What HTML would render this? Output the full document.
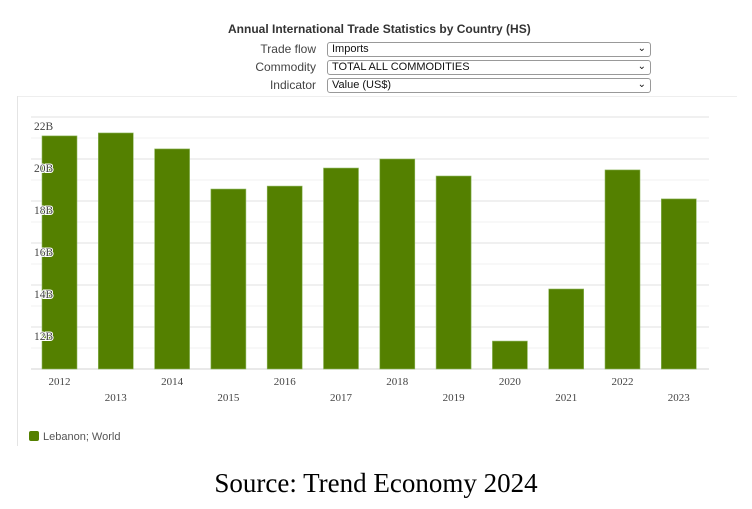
<!DOCTYPE html>
<html><head><meta charset="utf-8">
<style>
body{margin:0;width:752px;height:509px;background:#fff;position:relative;overflow:hidden;font-family:"Liberation Sans",sans-serif}
.lbl{position:absolute;font-size:12px;color:#444;text-align:right;width:100px}
.sel{position:absolute;left:327px;width:318px;height:13px;border:1px solid #999;border-radius:3px;font-size:11px;color:#111;padding-left:4px;line-height:13px}
.sel span{position:absolute;right:4px;top:-1px;font-size:10px}
</style></head><body>
<div style="position:absolute;left:228px;top:22px;font-size:12px;font-weight:bold;color:#333">Annual International Trade Statistics by Country (HS)</div>
<div class="lbl" style="left:216px;top:42px">Trade flow</div>
<div class="sel" style="top:42px">Imports<span>&#8964;</span></div>
<div class="lbl" style="left:216px;top:60px">Commodity</div>
<div class="sel" style="top:60px">TOTAL ALL COMMODITIES<span>&#8964;</span></div>
<div class="lbl" style="left:216px;top:78px">Indicator</div>
<div class="sel" style="top:78px">Value (US$)<span>&#8964;</span></div>
<div style="position:absolute;left:17px;top:96px;width:720px;height:1px;background:#eee"></div>
<div style="position:absolute;left:17px;top:96px;width:1px;height:350px;background:#e4e4e4"></div>
<svg id="chart" width="752" height="509" style="position:absolute;left:0;top:0"></svg>
<div style="position:absolute;left:29px;top:431px;font-size:11px;color:#555"><span style="display:inline-block;width:10px;height:10px;background:#548000;border-radius:2px;vertical-align:-1px;margin-right:4px"></span>Lebanon; World</div>
<div style="position:absolute;left:0;width:752px;top:468px;text-align:center;font-family:'Liberation Serif',serif;font-size:27px;color:#000">Source: Trend Economy 2024</div>
<script>
const years=["2012","2013","2014","2015","2016","2017","2018","2019","2020","2021","2022","2023"];
const values=[21.1,21.24,20.48,18.57,18.71,19.57,20.0,19.19,11.33,13.81,19.48,18.1];
const ticks=[12,14,16,18,20,22];
const tickLabels=["12B","14B","16B","18B","20B","22B"];
const NS="http://www.w3.org/2000/svg";
const svg=document.getElementById('chart');
const yMin=10,yMax=22,top0=117,base=369,left=31,right=709;
const y=v=>base-(v-yMin)/(yMax-yMin)*(base-top0);
const xc=i=>left+28.5+i*56.3;
function el(t,a){const e=document.createElementNS(NS,t);for(const k in a)e.setAttribute(k,a[k]);svg.appendChild(e);return e;}
for(let v=yMin;v<=yMax;v+=1){
  const g=el('line',{x1:left,x2:right,y1:y(v),y2:y(v),stroke:v%2===0?'#e2e2e2':'#f2f2f2','stroke-width':v===yMin?1.5:1});
  
  
}
years.forEach((yr,i)=>{
  const b=el('rect',{x:xc(i)-17.5,y:y(values[i]),width:35,height:base-y(values[i]),fill:'#548000',stroke:'#8fb860','stroke-width':0.6});
  
  
  const t=el('text',{x:xc(i),y:i%2===0?385:401,'text-anchor':'middle','font-family':'Liberation Serif, serif','font-size':11,fill:'#444'});
  t.textContent=yr;
  
  
});
ticks.forEach((v,i)=>{
  const t=el('text',{x:34,y:y(v)+13,'font-family':'Liberation Serif, serif','font-size':11.5,fill:'#444',stroke:'#fff','stroke-width':2,'paint-order':'stroke'});
  t.textContent=tickLabels[i];
  
  
});
</script>
</body></html>
